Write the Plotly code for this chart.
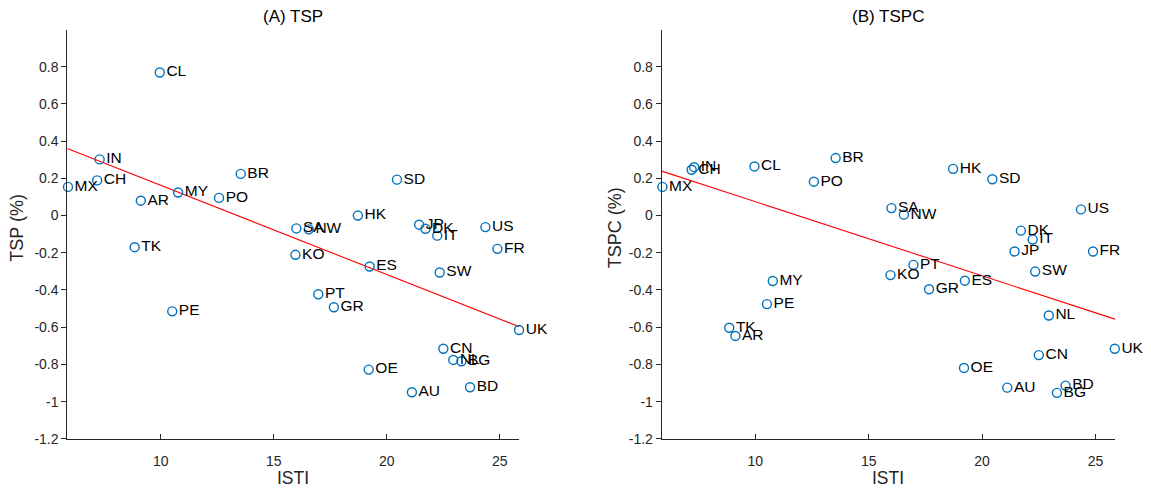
import numpy as np
import plotly.graph_objects as go

countries = ["MX", "CH", "IN", "TK", "AR", "CL", "PE", "MY", "PO", "BR",
             "KO", "SA", "NW", "PT", "GR", "HK", "OE", "ES", "SD", "AU",
             "JP", "DK", "IT", "SW", "CN", "NL", "BG", "BD", "US", "FR", "UK"]
isti = [5.90, 7.19, 7.30, 8.85, 9.12, 9.96, 10.51, 10.77, 12.58, 13.54,
        15.96, 16.00, 16.55, 16.97, 17.66, 18.72, 19.20, 19.24, 20.45, 21.11,
        21.43, 21.71, 22.23, 22.34, 22.50, 22.94, 23.30, 23.68, 24.36, 24.89, 25.85]
tsp = [0.154, 0.189, 0.302, -0.170, 0.080, 0.769, -0.515, 0.124, 0.095, 0.224,
       -0.211, -0.069, -0.074, -0.423, -0.493, 0.000, -0.828, -0.274, 0.193, -0.950,
       -0.049, -0.071, -0.108, -0.306, -0.716, -0.776, -0.783, -0.923, -0.062, -0.179, -0.615]
tspc = [0.154, 0.246, 0.260, -0.603, -0.647, 0.264, -0.476, -0.352, 0.182, 0.309,
        -0.320, 0.040, 0.005, -0.265, -0.396, 0.251, -0.819, -0.350, 0.195, -0.925,
        -0.193, -0.081, -0.129, -0.301, -0.750, -0.537, -0.953, -0.914, 0.033, -0.193, -0.716]

# fitted line (intercept, slope) as drawn in the source figure
fit_tsp = [0.6426, -0.04797]
fit_tspc = [0.4727, -0.03982]

x_range = [5.87, 25.86]
y_range = [-1.2, 1.0]
y_ticks = [-1.2, -1.0, -0.8, -0.6, -0.4, -0.2, 0, 0.2, 0.4, 0.6, 0.8]
y_ticktext = ["-1.2", "-1", "-0.8", "-0.6", "-0.4", "-0.2", "0", "0.2", "0.4", "0.6", "0.8"]
x_ticks = [10, 15, 20, 25]

FONT = "Liberation Sans, Arial, Helvetica, sans-serif"
AXC = "#262626"
MARK = "#0072BD"

fig = go.Figure()

for yv, fit, xa, ya in [(tsp, fit_tsp, "x", "y"), (tspc, fit_tspc, "x2", "y2")]:
    lx = np.array(x_range)
    fig.add_trace(go.Scatter(x=lx, y=fit[0] + fit[1] * lx, mode="lines",
                             line=dict(color="#FF0000", width=1.1),
                             xaxis=xa, yaxis=ya, showlegend=False, hoverinfo="skip"))
    fig.add_trace(go.Scatter(x=isti, y=yv, mode="markers+text", text=countries,
                             textposition="middle right",
                             textfont=dict(family=FONT, size=15.5, color="#000000"),
                             marker=dict(symbol="circle-open", size=9,
                                         line=dict(color=MARK, width=1.4), color=MARK),
                             xaxis=xa, yaxis=ya, showlegend=False, cliponaxis=False))

xd1 = [67.3 / 1151, 519.3 / 1151]
xd2 = [661.7 / 1151, 1115 / 1151]
yd = [1 - 446 / 496, 1 - 30 / 496]

common_x = dict(range=x_range, tickvals=x_ticks, ticks="inside", ticklen=5,
                tickcolor=AXC, showline=True, linecolor=AXC, linewidth=1,
                showgrid=False, zeroline=False, mirror=False, ticklabelstandoff=9,
                tickfont=dict(family=FONT, size=14, color=AXC))
common_y = dict(range=y_range, tickvals=y_ticks, ticktext=y_ticktext,
                ticks="outside", ticklen=5, tickcolor=AXC, showline=True,
                linecolor=AXC, linewidth=1, showgrid=False, zeroline=False,
                tickfont=dict(family=FONT, size=14, color=AXC))

fig.update_layout(
    width=1151, height=496,
    margin=dict(l=0, r=0, t=0, b=0),
    paper_bgcolor="white", plot_bgcolor="white",
    xaxis=dict(domain=xd1, anchor="y", **common_x),
    yaxis=dict(domain=yd, anchor="x", **common_y),
    xaxis2=dict(domain=xd2, anchor="y2", **common_x),
    yaxis2=dict(domain=yd, anchor="x2", **common_y),
    annotations=[
        dict(text="(A) TSP", x=(xd1[0] + xd1[1]) / 2, y=1 - 17 / 496, xref="paper", yref="paper",
             showarrow=False, xanchor="center", yanchor="middle",
             font=dict(family=FONT, size=17, color="#000000")),
        dict(text="(B) TSPC", x=(xd2[0] + xd2[1]) / 2, y=1 - 17 / 496, xref="paper", yref="paper",
             showarrow=False, xanchor="center", yanchor="middle",
             font=dict(family=FONT, size=17, color="#000000")),
        dict(text="ISTI", x=(xd1[0] + xd1[1]) / 2, y=1 - 486 / 496, xref="paper", yref="paper",
             showarrow=False, xanchor="center", yanchor="middle",
             font=dict(family=FONT, size=17.5, color=AXC)),
        dict(text="ISTI", x=(xd2[0] + xd2[1]) / 2, y=1 - 486 / 496, xref="paper", yref="paper",
             showarrow=False, xanchor="center", yanchor="middle",
             font=dict(family=FONT, size=17.5, color=AXC)),
        dict(text="TSP (%)", x=17.5 / 1151, y=1 - 232 / 496, xref="paper", yref="paper",
             showarrow=False, xanchor="center", yanchor="middle", textangle=-90,
             font=dict(family=FONT, size=18, color=AXC)),
        dict(text="TSPC (%)", x=615 / 1151, y=1 - 232 / 496, xref="paper", yref="paper",
             showarrow=False, xanchor="center", yanchor="middle", textangle=-90,
             font=dict(family=FONT, size=18, color=AXC)),
    ],
)

fig.write_html("out.html")
